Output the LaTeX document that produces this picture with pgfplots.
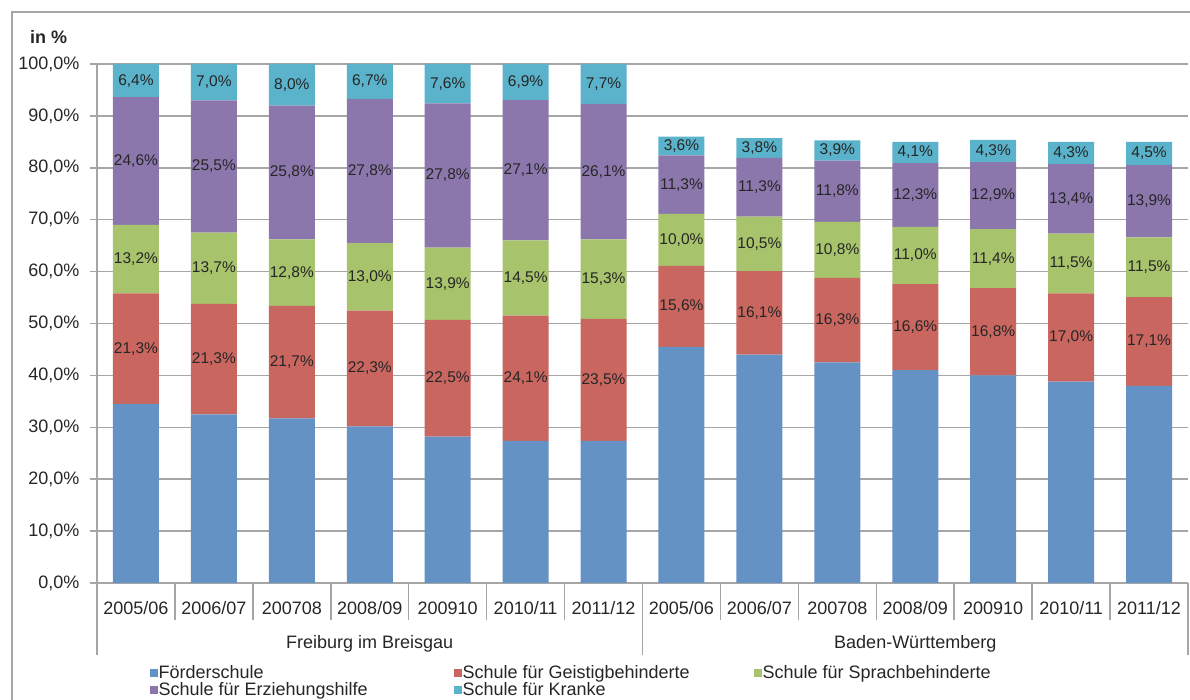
\documentclass[border=0pt]{standalone}
\usepackage{pgfplots}
\pgfplotsset{compat=1.18}
\usepackage{pgfplotstable}
\usepackage{fontspec}
\setmainfont{Liberation Sans}
\definecolor{cBlue}{HTML}{6592C4}
\definecolor{cRed}{HTML}{C9665F}
\definecolor{cGreen}{HTML}{A7C36C}
\definecolor{cPurple}{HTML}{8C77AD}
\definecolor{cCyan}{HTML}{5AB3CA}
\definecolor{cGrid}{HTML}{A6A6A6}
\definecolor{cText}{HTML}{262626}

\pgfplotstableread{
x blue red green purple cyan
0 34.5 21.3 13.2 24.6 6.4
1 32.5 21.3 13.7 25.5 7.0
2 31.7 21.7 12.8 25.8 8.0
3 30.2 22.3 13.0 27.8 6.7
4 28.2 22.5 13.9 27.8 7.6
5 27.4 24.1 14.5 27.1 6.9
6 27.4 23.5 15.3 26.1 7.7
7 45.5 15.6 10.0 11.3 3.6
8 44.0 16.1 10.5 11.3 3.8
9 42.5 16.3 10.8 11.8 3.9
10 41.0 16.6 11.0 12.3 4.1
11 40.0 16.8 11.4 12.9 4.3
12 38.8 17.0 11.5 13.4 4.3
13 38.0 17.1 11.5 13.9 4.5
}\datatable

\pgfplotsset{
  lbl/.style={
    point meta=\thisrow{#1},
    nodes near coords={\pgfmathprintnumber[fixed,fixed zerofill,precision=1,use comma]{\pgfplotspointmeta}\%},
  }
}

\begin{document}
\begin{tikzpicture}
\useasboundingbox (0,0) rectangle (1190pt,700pt);
\draw[cGrid, line width=1.5pt] (12pt,-10pt) -- (12pt,688pt) -- (1210pt,688pt);
\node[font=\bfseries\fontsize{18}{20}\selectfont, text=cText, anchor=base west, inner sep=0pt] at (30pt,656.5pt) {in \%};
\begin{axis}[
  at={(97pt,117pt)}, anchor=south west,
  scale only axis, width=1091pt, height=519pt,
  xmin=-0.5, xmax=13.5, ymin=0, ymax=100,
  ybar stacked, bar width=46pt,
  clip=false,
  axis lines*=left, axis line style={cGrid, line width=1.5pt, -},
  ymajorgrids, grid style={cGrid, line width=1.5pt},
  ytick={0,10,...,100},
  yticklabel={\pgfmathprintnumber[fixed,fixed zerofill,precision=1,use comma]{\tick}\%},
  yticklabel style={font=\fontsize{18}{20}\selectfont, text=cText, xshift=-7pt},
  ytick style={cGrid, line width=1.5pt},
  tick align=outside, major tick length=7pt,
  xtick={0,...,13},
  xticklabels={2005/06,2006/07,200708,2008/09,200910,2010/11,2011/12,2005/06,2006/07,200708,2008/09,200910,2010/11,2011/12},
  x tick style={draw=none},
  xticklabel style={font=\fontsize{18}{20}\selectfont, text=cText, yshift=-8pt},
  /pgf/number format/assume math mode=true,
  every node near coord/.style={font=\fontsize{15.5}{17}\selectfont, text=cText, anchor=center, inner sep=0pt},
  legend columns=3,
  legend cell align=left,
  legend style={draw=none, fill=none, font=\fontsize{18}{18}\selectfont, text=cText,
    at={(axis description cs:0.0485,-0.158)}, anchor=north west, inner sep=0pt,
    row sep=1pt, /tikz/every even column/.append style={column sep=3pt}, nodes={inner sep=0.5pt}},
  legend image code/.code={\fill[#1, draw=none] (0pt,-4pt) rectangle (8pt,4pt);},
]
\addplot[fill=cBlue, draw=none] table[x=x, y=blue] {\datatable};
\addlegendentry{\makebox[292pt][l]{Förderschule}}
\addplot[fill=cRed, draw=none, lbl=red] table[x=x, y=red] {\datatable};
\addlegendentry{\makebox[288pt][l]{Schule für Geistigbehinderte}}
\addplot[fill=cGreen, draw=none, lbl=green] table[x=x, y=green] {\datatable};
\addlegendentry{Schule für Sprachbehinderte}
\addplot[fill=cPurple, draw=none, lbl=purple] table[x=x, y=purple] {\datatable};
\addlegendentry{\makebox[292pt][l]{Schule für Erziehungshilfe}}
\addplot[fill=cCyan, draw=none, lbl=cyan] table[x=x, y=cyan] {\datatable};
\addlegendentry{\makebox[288pt][l]{Schule für Kranke}}

\pgfplotsinvokeforeach{0.5,1.5,2.5,3.5,4.5,5.5,7.5,8.5,9.5,10.5,11.5,12.5}{
  \draw[cGrid, line width=1.5pt] (axis cs:#1,0) -- ++(0pt,-37pt);
}
\pgfplotsinvokeforeach{-0.5,6.5,13.5}{
  \draw[cGrid, line width=1.5pt] (axis cs:#1,0) -- ++(0pt,-72pt);
}
\node[font=\fontsize{18}{20}\selectfont, text=cText] at ([yshift=-61pt]axis cs:3,0) {Freiburg im Breisgau};
\node[font=\fontsize{18}{20}\selectfont, text=cText] at ([yshift=-61pt]axis cs:10,0) {Baden-Württemberg};
\end{axis}
\end{tikzpicture}
\end{document}
